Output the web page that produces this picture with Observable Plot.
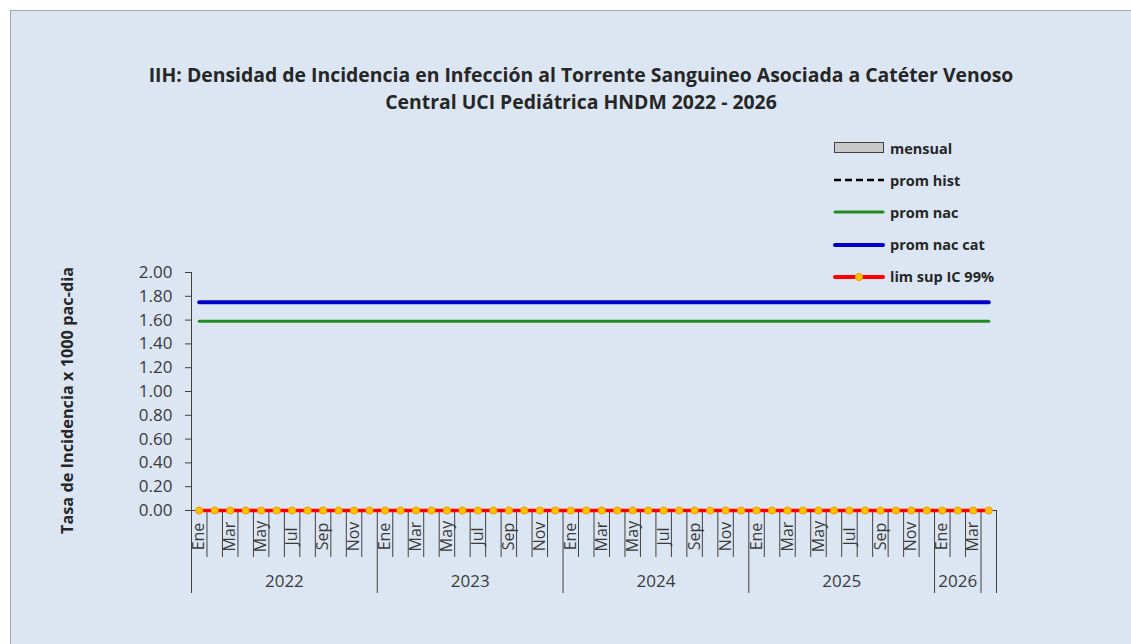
<!DOCTYPE html>
<html>
<head>
<meta charset="utf-8">
<script src="https://cdn.jsdelivr.net/npm/d3@7"></script>
<script src="https://cdn.jsdelivr.net/npm/@observablehq/plot@0.6"></script>
<style>
  html, body { margin: 0; padding: 0; background: #ffffff; }
  body { width: 1131px; height: 644px; overflow: hidden; position: relative; font-family: "Open Sans", sans-serif; }
  #frame { position: absolute; left: 10px; top: 10px; width: 1121px; height: 634px; background: #dce6f2;
           border-top: 1px solid #a6a6a6; border-left: 1px solid #a6a6a6; box-sizing: border-box; }
  .title { position: absolute; left: 0; width: 1140px; text-align: center; font-weight: 700;
           font-size: 19.4px; line-height: 26px; height: 26px; color: #262626; white-space: nowrap; }
  #chart { position: absolute; left: -1px; top: 109px; }
  #legend { position: absolute; left: 822px; top: 127px; }
  .item { position: absolute; left: 0; height: 20px; display: flex; align-items: center; white-space: nowrap;
          font-weight: 700; font-size: 14.5px; color: #262626; }
  .item svg { display: block; margin-right: 5px; }
</style>
</head>
<body>
<div id="frame">
  <div class="title" style="top: 51px;">IIH: Densidad de Incidencia en Infección al Torrente Sanguineo Asociada a Catéter Venoso</div>
  <div class="title" style="top: 78px;">Central UCI Pediátrica HNDM 2022 - 2026</div>
  <div id="chart"></div>
  <div id="legend"></div>
</div>
<script>
// ---- data ----
const monthLabels = ["Ene","Feb","Mar","Abr","May","Jun","Jul","Ago","Sep","Oct","Nov","Dic"];
const yearLabels = ["2022","2023","2024","2025","2026",""];
const monthsPerYear = [12, 12, 12, 12, 3, 1];
const mensual = [0,0,0,0,0,0,0,0,0,0,0,0, 0,0,0,0,0,0,0,0,0,0,0,0, 0,0,0,0,0,0,0,0,0,0,0,0, 0,0,0,0,0,0,0,0,0,0,0,0, 0,0,0,0];
const limSup  = [0,0,0,0,0,0,0,0,0,0,0,0, 0,0,0,0,0,0,0,0,0,0,0,0, 0,0,0,0,0,0,0,0,0,0,0,0, 0,0,0,0,0,0,0,0,0,0,0,0, 0,0,0,0];
const promHist = 0;
const promNac = 1.59;
const promNacCat = 1.75;
const yTicks = [0, 0.2, 0.4, 0.6, 0.8, 1.0, 1.2, 1.4, 1.6, 1.8, 2.0];
const legendItems = ["mensual", "prom hist", "prom nac", "prom nac cat", "lim sup IC 99%"];

// ---- build categories ----
const periods = [];
const groups = [];
let idx = 0;
yearLabels.forEach((yr, g) => {
  groups.push({label: yr, start: idx, end: idx + monthsPerYear[g]});
  for (let m = 0; m < monthsPerYear[g]; m++) {
    const mi = idx % 12;
    periods.push({i: idx, month: monthLabels[mi], showMonth: mi % 2 === 0,
                  mensual: mensual[idx], limSup: limSup[idx]});
    idx++;
  }
});
const boundaries = [0, ...groups.map(g => g.end)];
const minorBounds = d3.range(1, periods.length).filter(b => !boundaries.includes(b));

const axisColor = "#404040";
const chart = Plot.plot({
  width: 1121,
  height: 500,
  marginLeft: 181,
  marginRight: 135,
  marginTop: 152,
  marginBottom: 110,
  style: {background: "transparent", fontFamily: "Open Sans, sans-serif", fontSize: "16px", color: axisColor, overflow: "visible"},
  x: {type: "linear", domain: [0, periods.length], axis: null},
  y: {domain: [0, 2], axis: null},
  marks: [
    // y axis
    Plot.axisY(yTicks, {tickSize: 6, tickPadding: 13, tickFormat: d => d.toFixed(2), fontSize: 17, stroke: axisColor, fill: "#3a3a3a"}),
    Plot.ruleX([0], {y1: 0, y2: 2, stroke: axisColor}),
    // category tick lines
    Plot.ruleX(minorBounds, {x: d => d, y1: 0, y2: 0, insetBottom: -47, stroke: axisColor}),
    Plot.ruleX(boundaries, {x: d => d, y1: 0, y2: 0, insetBottom: -83, stroke: axisColor}),
    Plot.ruleY([0], {stroke: axisColor}),
    // month & year labels
    Plot.text(periods.filter(p => p.showMonth), {x: p => p.i + 0.5, y: 0, text: "month", rotate: -90, dy: 26, fontSize: 16, fill: "#3a3a3a"}),
    Plot.text(groups.filter(g => g.label !== ""), {x: g => (g.start + g.end) / 2, y: 0, text: "label", dy: 71, fontSize: 17, fill: "#3a3a3a"}),
    // series
    Plot.rectY(periods, {x1: p => p.i + 0.2, x2: p => p.i + 0.8, y: "mensual", fill: "#c8c8c8", stroke: "#404040"}),
    Plot.line(periods, {x: p => p.i + 0.5, y: () => promHist, stroke: "#000000", strokeWidth: 2.5, strokeDasharray: "6,4"}),
    Plot.line(periods, {x: p => p.i + 0.5, y: () => promNac, stroke: "#228b22", strokeWidth: 3}),
    Plot.line(periods, {x: p => p.i + 0.5, y: () => promNacCat, stroke: "#0000cc", strokeWidth: 4}),
    Plot.line(periods, {x: p => p.i + 0.5, y: "limSup", stroke: "#ff0000", strokeWidth: 3.5}),
    Plot.dot(periods, {x: p => p.i + 0.5, y: "limSup", r: 3.6, fill: "#ffc000", stroke: "#e8a000", strokeWidth: 1}),
    // y axis title
    Plot.text(["Tasa de Incidencia x 1000 pac-dia"], {frameAnchor: "left", textAnchor: "middle", text: d => d, rotate: -90, dx: -124, dy: 9, fontSize: 16.3, fontWeight: "bold", fill: "#262626"})
  ]
});
document.getElementById("chart").appendChild(chart);

// ---- legend ----
const swatch = (k) => {
  const ns = "http://www.w3.org/2000/svg";
  const s = document.createElementNS(ns, "svg");
  s.setAttribute("width", 52); s.setAttribute("height", 14);
  const mk = (tag, attrs) => { const e = document.createElementNS(ns, tag); for (const a in attrs) e.setAttribute(a, attrs[a]); s.appendChild(e); return e; };
  if (k === 0) mk("rect", {x: 1.5, y: 1.5, width: 49, height: 10, fill: "#c8c8c8", stroke: "#404040", "stroke-width": 1});
  if (k === 1) mk("line", {x1: 1, x2: 51, y1: 7, y2: 7, stroke: "#000", "stroke-width": 2.5, "stroke-dasharray": "7,4"});
  if (k === 2) mk("line", {x1: 2, x2: 50, y1: 7, y2: 7, stroke: "#228b22", "stroke-width": 3, "stroke-linecap": "round"});
  if (k === 3) mk("line", {x1: 2, x2: 50, y1: 7, y2: 7, stroke: "#0000cc", "stroke-width": 4, "stroke-linecap": "round"});
  if (k === 4) {
    mk("line", {x1: 2, x2: 50, y1: 7, y2: 7, stroke: "#ff0000", "stroke-width": 4, "stroke-linecap": "round"});
    mk("circle", {cx: 26, cy: 7, r: 3.6, fill: "#ffc000", stroke: "#e8a000", "stroke-width": 1});
  }
  return s;
};
const legend = document.getElementById("legend");
legendItems.forEach((t, k) => {
  const d = document.createElement("div");
  d.className = "item";
  d.style.top = (k * 32.2) + "px";
  d.appendChild(swatch(k));
  const sp = document.createElement("span");
  sp.textContent = t;
  d.appendChild(sp);
  legend.appendChild(d);
});
</script>
</body>
</html>
